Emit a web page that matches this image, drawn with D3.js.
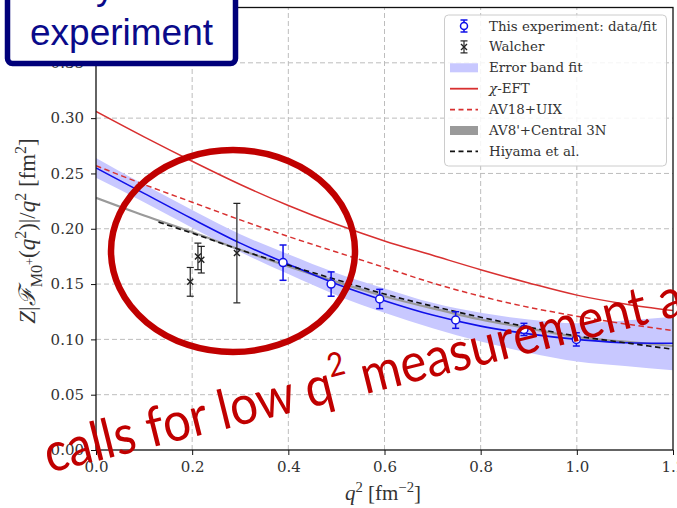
<!DOCTYPE html>
<html><head><meta charset="utf-8">
<script src="https://cdn.jsdelivr.net/npm/d3@7"></script>
<style>body{margin:0;background:#fff;overflow:hidden}svg{display:block}text{white-space:pre}</style>
</head><body><svg id="c" width="677" height="508"></svg>
<script>
// ---- data ----
const qGrid      = [0, 0.1, 0.2, 0.3, 0.4, 0.5, 0.6, 0.7, 0.8, 0.9, 1.0, 1.1, 1.2];
const fitCurve   = [0.255, 0.232, 0.209, 0.187, 0.168, 0.150, 0.135, 0.122, 0.112, 0.105, 0.100, 0.097, 0.0965];
const bandLow    = [0.246, 0.224, 0.201, 0.179, 0.159, 0.140, 0.124, 0.110, 0.098, 0.088, 0.080, 0.076, 0.072];
const bandHigh   = [0.264, 0.240, 0.217, 0.195, 0.177, 0.160, 0.146, 0.133, 0.124, 0.118, 0.1145, 0.117, 0.1205];
const chiEFT     = [0.306, 0.283, 0.261, 0.240, 0.221, 0.204, 0.189, 0.176, 0.163, 0.151, 0.140, 0.132, 0.126];
const av18uix    = [0.257, 0.240, 0.224, 0.208, 0.193, 0.179, 0.165, 0.151, 0.139, 0.129, 0.121, 0.114, 0.108];
const av8central = [0.228, 0.212, 0.197, 0.181, 0.166, 0.152, 0.139, 0.128, 0.118, 0.110, 0.102, 0.098, 0.094];
const hiyamaQ    = [0.13, 0.2, 0.3, 0.4, 0.5, 0.6, 0.7, 0.8, 0.9, 1.0, 1.1, 1.2];
const hiyamaV    = [0.206, 0.196, 0.181, 0.167, 0.154, 0.141, 0.130, 0.120, 0.111, 0.103, 0.097, 0.091];
const expQ   = [0.389, 0.489, 0.590, 0.748, 0.890, 0.999];
const expV   = [0.1694, 0.150, 0.1365, 0.1175, 0.109, 0.1000];
const expErr = [0.016, 0.011, 0.0087, 0.0075, 0.0055, 0.006];
const walQ   = [0.196, 0.212, 0.219, 0.293];
const walV   = [0.152, 0.175, 0.172, 0.178];
const walErr = [0.013, 0.012, 0.012, 0.045];
const xTicks = [0, 0.2, 0.4, 0.6, 0.8, 1.0, 1.2];
const yTicks = [0, 0.05, 0.10, 0.15, 0.20, 0.25, 0.30, 0.35, 0.40];
const legendLabels = ["This experiment: data/fit", "Walcher", "Error band fit", "χ-EFT", "AV18+UIX", "AV8'+Central 3N", "Hiyama et al."];

// ---- chart ----
const svg = d3.select("#c");
const X0 = 96, X1 = 673, Y0 = 450, Y1 = 7.5;
const x = d3.scaleLinear([0, 1.2], [X0, X1]);
const y = d3.scaleLinear([0, 0.4], [Y0, Y1]);
const BLUE = "#1010e8", RED = "#d83030", GRAY = "#9a9a9a";

svg.append("rect").attr("width", 677).attr("height", 508).attr("fill", "#fff");
svg.append("defs").append("clipPath").attr("id", "plot")
  .append("rect").attr("x", X0).attr("y", Y1).attr("width", X1 - X0).attr("height", Y0 - Y1);

// grid
const grid = svg.append("g").attr("stroke", "#bdbdbd").attr("stroke-width", 1).attr("stroke-dasharray", "5,3");
grid.selectAll(".gx").data(xTicks.slice(1, -1)).join("line")
  .attr("x1", d => x(d)).attr("x2", d => x(d)).attr("y1", Y0).attr("y2", Y1);
grid.selectAll(".gy").data(yTicks.slice(1, -1)).join("line")
  .attr("y1", d => y(d)).attr("y2", d => y(d)).attr("x1", X0).attr("x2", X1);

const plot = svg.append("g").attr("clip-path", "url(#plot)");
const line = d3.line().curve(d3.curveMonotoneX);
const pts = (qs, vs) => qs.map((q, i) => [x(q), y(vs[i])]);

// band
plot.append("path")
  .attr("d", d3.area().curve(d3.curveMonotoneX).x((d, i) => x(qGrid[i])).y0((d, i) => y(bandLow[i])).y1((d, i) => y(bandHigh[i]))(qGrid))
  .attr("fill", "rgb(200,200,255)");
// curves
plot.append("path").attr("d", line(pts(qGrid, chiEFT))).attr("fill", "none").attr("stroke", RED).attr("stroke-width", 1.5);
plot.append("path").attr("d", line(pts(qGrid, av18uix))).attr("fill", "none").attr("stroke", RED).attr("stroke-width", 1.5).attr("stroke-dasharray", "5.5,3.5");
plot.append("path").attr("d", line(pts(qGrid, av8central))).attr("fill", "none").attr("stroke", GRAY).attr("stroke-width", 2.2);
plot.append("path").attr("d", line(pts(qGrid, fitCurve))).attr("fill", "none").attr("stroke", BLUE).attr("stroke-width", 1.6);
plot.append("path").attr("d", line(pts(hiyamaQ, hiyamaV))).attr("fill", "none").attr("stroke", "#111").attr("stroke-width", 1.6).attr("stroke-dasharray", "5.5,3.5");

// error bars
function errbar(g, cx, yLo, yHi, color, w) {
  g.append("line").attr("x1", cx).attr("x2", cx).attr("y1", yLo).attr("y2", yHi).attr("stroke", color).attr("stroke-width", w);
  [yLo, yHi].forEach(t => g.append("line").attr("x1", cx - 3.5).attr("x2", cx + 3.5).attr("y1", t).attr("y2", t).attr("stroke", color).attr("stroke-width", w));
}
function xmark(g, cx, cy, color) {
  g.append("path").attr("d", `M${cx-3},${cy-3}L${cx+3},${cy+3}M${cx-3},${cy+3}L${cx+3},${cy-3}`).attr("stroke", color).attr("stroke-width", 1.4);
}
const wg = plot.append("g");
walQ.forEach((q, i) => {
  errbar(wg, x(q), y(walV[i] - walErr[i]), y(walV[i] + walErr[i]), "#222", 1.2);
  xmark(wg, x(q), y(walV[i]), "#222");
});
const eg = plot.append("g");
expQ.forEach((q, i) => {
  errbar(eg, x(q), y(expV[i] - expErr[i]), y(expV[i] + expErr[i]), BLUE, 1.5);
  eg.append("circle").attr("cx", x(q)).attr("cy", y(expV[i])).attr("r", 4).attr("fill", "#fff").attr("stroke", BLUE).attr("stroke-width", 1.5);
});

// axes
const tickFont = "DejaVu Serif";
const ax = svg.append("g").attr("transform", `translate(0,${Y0})`)
  .call(d3.axisBottom(x).tickValues(xTicks).tickFormat(d3.format(".1f")).tickSize(5).tickPadding(6));
const ay = svg.append("g").attr("transform", `translate(${X0},0)`)
  .call(d3.axisLeft(y).tickValues(yTicks).tickFormat(d3.format(".2f")).tickSize(5).tickPadding(7));
[ax, ay].forEach(a => {
  a.select(".domain").remove();
  a.selectAll("text").attr("font-family", tickFont).attr("font-size", 15).attr("fill", "#333");
  a.selectAll("line").attr("stroke", "#111");
});
svg.append("rect").attr("x", X0).attr("y", Y1).attr("width", X1 - X0).attr("height", Y0 - Y1)
  .attr("fill", "none").attr("stroke", "#111").attr("stroke-width", 1.3);

// rich text helper
function rich(t, segs, fs) {
  let cur = 0;
  segs.forEach(s => {
    const sh = (s.sh || 0) * fs;
    const ts = t.append("tspan").text(s.t).attr("dy", sh - cur);
    cur = sh;
    if (s.sz) ts.attr("font-size", s.sz * fs);
    if (s.it) ts.attr("font-style", "italic");
  });
}
function fitRich(t, segs, f0, target) {
  t.attr("font-size", f0); rich(t, segs, f0);
  const f = f0 * target / t.node().getComputedTextLength();
  t.selectAll("tspan").remove();
  t.attr("font-size", f); rich(t, segs, f);
}
// x label
const xl = svg.append("text").attr("x", 383).attr("y", 500).attr("text-anchor", "middle")
  .attr("font-family", "Liberation Serif, serif").attr("fill", "#333");
fitRich(xl, [{t: "q", it: 1}, {t: "2", sh: -0.4, sz: 0.7}, {t: " [fm"}, {t: "−2", sh: -0.4, sz: 0.7}, {t: "]"}], 16, 76);
// y label
const yl = svg.append("text").attr("transform", "translate(35,231) rotate(-90)").attr("text-anchor", "middle")
  .attr("font-family", "Liberation Serif, serif").attr("fill", "#333");
fitRich(yl, [{t: "Z", it: 1}, {t: "|"}, {t: "ℱ", it: 1}, {t: "M0", sh: 0.3, sz: 0.7}, {t: "+", sh: -0.05, sz: 0.55},
  {t: "(", sh: 0}, {t: "q", it: 1}, {t: "2", sh: -0.4, sz: 0.7}, {t: ")|/"}, {t: "q", it: 1}, {t: "2", sh: -0.4, sz: 0.7},
  {t: " [fm"}, {t: "2", sh: -0.4, sz: 0.7}, {t: "]"}], 16, 185);

// legend
const lg = svg.append("g");
lg.append("rect").attr("x", 444.5).attr("y", 15).attr("width", 222).attr("height", 151).attr("rx", 4)
  .attr("fill", "#fff").attr("fill-opacity", 0.85).attr("stroke", "#ccc");
const rowY = i => 26 + i * 20.9;
const hx0 = 450, hx1 = 478, hxc = 464;
errbar(lg, hxc, rowY(0) - 6, rowY(0) + 6, BLUE, 1.5);
lg.append("circle").attr("cx", hxc).attr("cy", rowY(0)).attr("r", 3.5).attr("fill", "#fff").attr("stroke", BLUE).attr("stroke-width", 1.5);
errbar(lg, hxc, rowY(1) - 6, rowY(1) + 6, "#222", 1.2);
xmark(lg, hxc, rowY(1), "#222");
lg.append("rect").attr("x", hx0).attr("y", rowY(2) - 4.5).attr("width", hx1 - hx0).attr("height", 9).attr("fill", "rgb(200,200,255)");
lg.append("line").attr("x1", hx0).attr("x2", hx1).attr("y1", rowY(3)).attr("y2", rowY(3)).attr("stroke", RED).attr("stroke-width", 1.8);
lg.append("line").attr("x1", hx0).attr("x2", hx1).attr("y1", rowY(4)).attr("y2", rowY(4)).attr("stroke", RED).attr("stroke-width", 1.6).attr("stroke-dasharray", "5,3.5");
lg.append("rect").attr("x", hx0).attr("y", rowY(5) - 4.5).attr("width", hx1 - hx0).attr("height", 9).attr("fill", GRAY);
lg.append("line").attr("x1", hx0).attr("x2", hx1).attr("y1", rowY(6)).attr("y2", rowY(6)).attr("stroke", "#111").attr("stroke-width", 1.6).attr("stroke-dasharray", "5,3.5");
legendLabels.forEach((s, i) => {
  const t = lg.append("text").attr("x", 489).attr("y", rowY(i) + 4.5).attr("font-family", "DejaVu Serif")
    .attr("font-size", 13.4).attr("fill", "#333");
  if (i === 3) rich(t, [{t: "χ", it: 1}, {t: "-EFT"}], 13.4); else t.text(s);
});

// annotation: red ellipse
svg.append("ellipse").attr("cx", 233).attr("cy", 251).attr("rx", 122).attr("ry", 101)
  .attr("fill", "none").attr("stroke", "#c00000").attr("stroke-width", 6.5);

// annotation: red rotated text (slightly condensed, Calibri-like)
const SX = 0.9;
const rg = svg.append("g").attr("transform", `translate(49,473) rotate(-14) scale(${SX},1)`);
const rt = rg.append("text").attr("font-family", "Lato, 'Open Sans', sans-serif").attr("fill", "#c00000");
const redSegs = [{t: "calls for low q"}, {t: "2", sh: -0.45, sz: 0.6}, {t: " measurement"}];
rt.attr("font-size", 40); rich(rt, redSegs, 40);
const rfs = 40 * (620 / SX) / rt.node().getComputedTextLength();
rt.selectAll("tspan").remove();
rt.attr("font-size", rfs);
rich(rt, [{t: "calls for low q"}, {t: "2", sh: -0.45, sz: 0.6}, {t: " measurement a"}], rfs);

// annotation: navy box (partially off-screen)
svg.append("rect").attr("x", 7.5).attr("y", -40).attr("width", 228).attr("height", 103.5).attr("rx", 5)
  .attr("fill", "#fff").attr("stroke", "#00007a").attr("stroke-width", 5.5);
svg.append("text").attr("x", 96).attr("y", -1).attr("font-family", "Liberation Sans, Arial, sans-serif")
  .attr("font-size", 37).attr("fill", "#0a0a8a").text("y");
svg.append("text").attr("x", 121.5).attr("y", 45).attr("text-anchor", "middle").attr("font-family", "Liberation Sans, Arial, sans-serif")
  .attr("font-size", 37).attr("fill", "#0a0a8a").text("experiment");
</script></body></html>
